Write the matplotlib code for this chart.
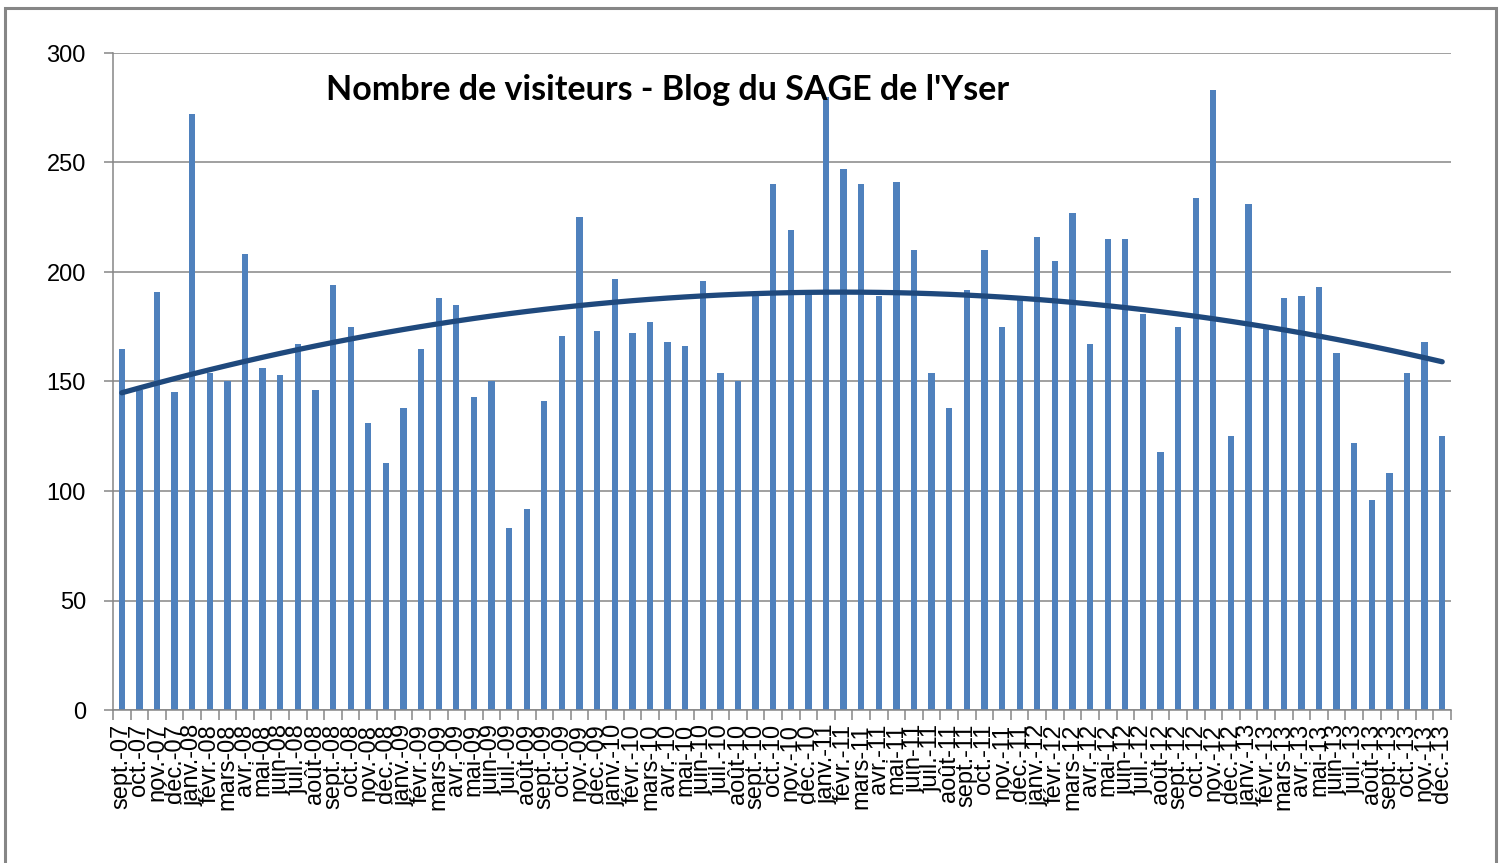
import numpy as np
import matplotlib
matplotlib.use("Agg")
import matplotlib.pyplot as plt
from matplotlib.patches import Rectangle

# mois (sept. 2007 -> déc. 2013)
mois = ["janv.", "févr.", "mars", "avr.", "mai", "juin",
        "juil.", "août", "sept.", "oct.", "nov.", "déc."]
labels = ["{}-{:02d}".format(m, a % 100)
          for a in range(2007, 2014) for m in mois][8:]

visiteurs = [165, 146, 191, 145, 272, 154, 150, 208, 156, 153, 167, 146,
             194, 175, 131, 113, 138, 165, 188, 185, 143, 150, 83, 92,
             141, 171, 225, 173, 197, 172, 177, 168, 166, 196, 154, 150,
             189, 240, 219, 190, 280, 247, 240, 189, 241, 210, 154, 138,
             192, 210, 175, 187, 216, 205, 227, 167, 215, 215, 181, 118,
             175, 234, 283, 125, 231, 175, 188, 189, 193, 163, 122, 96,
             108, 154, 168, 125]

titre = "Nombre de visiteurs - Blog du SAGE de l'Yser"

W, H = 1503, 863
fig = plt.figure(figsize=(W / 100, H / 100), dpi=100)
ax = fig.add_axes([113 / W, 1 - 710 / H, 1338 / W, 657 / H])

x = np.arange(len(visiteurs))
ax.bar(x, visiteurs, width=0.36, color="#4F81BD", zorder=2)

# courbe de tendance polynomiale (ordre 2)
coef = np.polyfit(x, visiteurs, 2)
ax.plot(x, np.polyval(coef, x), color="#1F497D", lw=3.8,
        solid_capstyle="round", zorder=3)

grid_c = "#868686"
ax.set_xlim(-0.5, len(visiteurs) - 0.5)
ax.set_ylim(0, 300)
ax.set_yticks(range(0, 301, 50))
ax.yaxis.grid(True, color=grid_c, lw=1.1, zorder=0)
ax.set_axisbelow(True)
for s in ["top", "right"]:
    ax.spines[s].set_visible(False)
for s in ["left", "bottom"]:
    ax.spines[s].set_color(grid_c)
    ax.spines[s].set_linewidth(1.1)

ax.set_xticks(x)
ax.set_xticklabels(labels, rotation=90, va="top", ha="center",
                   family="Liberation Sans", fontsize=17)
ax.set_xticks(np.arange(len(visiteurs) + 1) - 0.5, minor=True)
ax.tick_params(axis="x", which="major", length=0, pad=10)
ax.tick_params(axis="x", which="minor", length=7, width=1.1, color=grid_c)
ax.tick_params(axis="y", length=6.5, width=1.1, color=grid_c, pad=13,
               labelsize=17)
for t in ax.get_yticklabels():
    t.set_family("Liberation Sans")

fig.text(668 / W, 1 - 90 / H, titre, ha="center", va="center",
         family="Lato", fontweight="bold", fontsize=24.5)

# cadre du graphique
fig.patches.append(Rectangle((5 / W, -0.05), 1491 / W, 1 - 8 / H + 0.05,
                             transform=fig.transFigure, fill=False,
                             edgecolor=grid_c, lw=2.2))

fig.savefig("out.png", dpi=100)
